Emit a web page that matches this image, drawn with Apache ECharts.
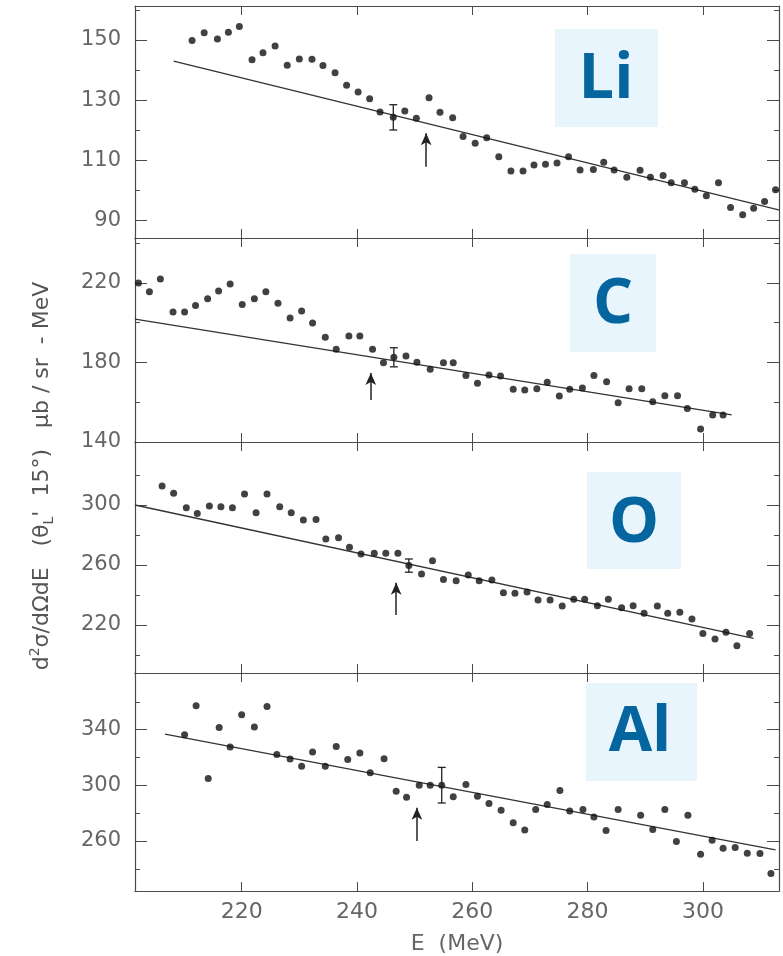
<!DOCTYPE html>
<html><head><meta charset="utf-8">
<script src="https://cdn.jsdelivr.net/npm/echarts@6/dist/echarts.min.js"></script>
<style>html,body{margin:0;padding:0;background:#fff}#c{width:783px;height:956px}</style>
</head><body><div id="c"></div>
<script>
// ---- data ----
const xTicks = [220, 240, 260, 280, 300];
const xMin = 201.5, xMax = 313.2;

const liE = [211.4,213.5,215.8,217.7,219.6,221.8,223.7,225.8,227.9,230.0,232.2,234.1,236.2,238.2,240.2,242.2,244.0,246.3,248.3,250.3,252.5,254.4,256.6,258.4,260.5,262.5,264.6,266.7,268.8,270.7,272.7,274.7,276.7,278.7,281.0,282.8,284.6,286.8,289.1,290.9,293.1,294.5,296.8,298.6,300.6,302.7,304.8,306.9,308.8,310.7,312.6];
const liV = [149.8,152.4,150.3,152.6,154.5,143.4,145.8,148.0,141.6,143.7,143.6,141.5,139.1,135.0,132.7,130.5,126.1,124.3,126.4,124.0,130.8,126.0,124.2,117.9,115.7,117.5,111.2,106.5,106.5,108.5,108.7,109.1,111.2,106.8,107.0,109.4,106.8,104.4,106.7,104.4,105.0,102.6,102.6,100.4,98.2,102.6,94.3,91.9,94.1,96.3,100.2];

const cE = [202.1,204.0,205.9,208.1,210.1,212.0,214.1,216.0,218.0,220.1,222.2,224.2,226.3,228.4,230.4,232.3,234.5,236.4,238.6,240.5,242.7,244.6,246.4,248.5,250.4,252.7,255.0,256.7,258.9,260.9,262.9,264.9,267.1,269.1,271.2,273.0,275.1,276.9,279.1,281.1,283.3,285.3,287.2,289.4,291.3,293.4,295.6,297.3,299.6,301.7,303.5];
const cV = [220.0,215.6,222.0,205.4,205.4,208.6,212.1,216.0,219.5,209.1,212.1,215.6,209.8,202.4,205.9,199.9,192.7,186.6,193.3,193.3,186.6,179.9,182.6,183.3,180.1,176.6,179.9,179.9,173.5,169.5,173.7,173.2,166.5,166.2,166.8,170.0,163.1,166.5,167.2,173.4,170.3,159.8,166.8,166.8,160.3,163.3,163.3,156.9,146.5,153.6,153.6];

const oE = [206.2,208.2,210.4,212.3,214.4,216.4,218.4,220.5,222.5,224.4,226.6,228.6,230.7,232.9,234.6,236.8,238.7,240.7,243.0,245.0,247.1,249.0,251.2,253.1,255.0,257.2,259.3,261.2,263.4,265.4,267.4,269.5,271.4,273.5,275.6,277.6,279.5,281.7,283.6,285.9,287.9,289.8,292.1,293.9,296.0,298.1,300.0,302.1,304.0,305.9,308.1];
const oV = [312.7,307.8,298.2,294.4,299.3,298.9,298.2,307.3,294.9,307.3,298.9,294.9,290.0,290.4,277.3,278.2,271.8,267.3,267.8,267.8,267.8,259.6,254.0,262.9,250.4,249.5,253.3,249.5,250.0,241.5,241.1,242.0,236.7,236.7,232.7,237.1,237.1,232.9,237.1,231.5,232.9,227.8,232.7,227.8,228.5,224.0,214.4,210.7,215.1,206.2,214.4];

const alE = [210.1,212.1,214.2,216.1,218.0,220.0,222.2,224.4,226.1,228.4,230.4,232.3,234.5,236.4,238.4,240.5,242.3,244.7,246.8,248.6,250.8,252.7,254.7,256.7,258.9,260.9,262.9,265.0,267.1,269.1,271.0,273.0,275.2,276.9,279.2,281.1,283.2,285.3,289.2,291.3,293.4,295.4,297.4,299.6,301.6,303.5,305.6,307.7,309.9,311.8];
const alV = [336.4,357.2,304.9,341.6,327.6,350.7,341.9,356.7,322.1,319.0,313.7,324.0,313.7,328.0,318.5,323.3,309.0,319.2,295.8,291.5,300.1,300.1,300.1,291.8,300.6,292.2,287.0,282.0,273.1,267.8,282.7,286.2,296.3,281.5,282.7,277.2,267.6,282.7,278.4,268.3,282.7,259.6,278.4,250.4,260.5,254.8,255.2,251.1,250.9,236.5];

// fitted straight lines: [E1, V1, E2, V2]
const liFit = [208.2, 143.0, 313.3, 93.5];
const cFit  = [201.5, 201.8, 305.0, 153.6];
const oFit  = [201.5, 300.0, 308.8, 211.1];
const alFit = [206.7, 336.9, 312.6, 253.5];

// representative error bar: [E, V, halfWidth]
const liErr = [246.3, 124.3, 4.2];
const cErr  = [246.4, 182.6, 4.8];
const oErr  = [249.0, 259.6, 4.4];
const alErr = [254.7, 300.1, 12.8];

// arrows: [E, tailV, headV]
const liArrow = [252.0, 107.9, 119.0];
const cArrow  = [242.4, 161.1, 174.7];
const oArrow  = [246.8, 226.7, 248.2];
const alArrow = [250.4, 260.0, 283.9];

// y axis ranges and ticks
const yMins = [84.2, 140.0, 188.0, 224.0];
const yMaxs = [161.3, 242.6, 342.0, 380.8];
const liTicks = [90, 110, 130, 150],  liMinor = [100, 120, 140, 160];
const cTicks  = [140, 180, 220],      cMinor  = [160, 200, 240];
const oTicks  = [220, 260, 300],      oMinor  = [200, 240, 280, 320];
const alTicks = [260, 300, 340],      alMinor = [240, 280, 320, 360];

const names = ['Li', 'C', 'O', 'Al'];

// ---- build ----
const Es = [liE, cE, oE, alE], Vs = [liV, cV, oV, alV];
const fits = [liFit, cFit, oFit, alFit];
const errs = [liErr, cErr, oErr, alErr];
const arrows = [liArrow, cArrow, oArrow, alArrow];
const majors = [liTicks, cTicks, oTicks, alTicks];
const minors = [liMinor, cMinor, oMinor, alMinor];

const gridTops = [6, 238, 442, 673];
const gridHeights = [232, 204, 231, 219];
const axisColor = '#4a4a4a';
const labelColor = '#666';
const labelFont = 'DejaVu Sans';

const grid = [], xAxis = [], yAxis = [], series = [];
for (let i = 0; i < 4; i++) {
  grid.push({ left: 135, width: 644, top: gridTops[i], height: gridHeights[i] });
  ['bottom', 'top'].forEach((pos, k) => {
    xAxis.push({
      type: 'value', gridIndex: i, position: pos, min: xMin, max: xMax,
      axisLine: { show: true, onZero: false, lineStyle: { color: axisColor, width: 1.2 } },
      axisTick: { show: true, inside: true, length: 9, customValues: xTicks, lineStyle: { color: axisColor } },
      axisLabel: { show: i === 3 && k === 0, customValues: xTicks, fontSize: 22, color: labelColor, fontFamily: labelFont, margin: 10 },
      splitLine: { show: false },
      name: (i === 3 && k === 0) ? 'E  (MeV)' : '',
      nameLocation: 'middle', nameGap: 42,
      nameTextStyle: { fontSize: 22, color: labelColor, fontFamily: labelFont }
    });
  });
  ['left', 'right'].forEach((pos) => {
    yAxis.push({
      type: 'value', gridIndex: i, position: pos, min: yMins[i], max: yMaxs[i],
      axisLine: { show: true, onZero: false, lineStyle: { color: axisColor, width: 1.2 } },
      axisTick: { show: true, inside: true, length: 12, customValues: majors[i], lineStyle: { color: axisColor } },
      axisLabel: { show: pos === 'left', customValues: majors[i], fontSize: 21, color: labelColor, fontFamily: labelFont, margin: 14 },
      splitLine: { show: false }
    });
    yAxis.push({
      type: 'value', gridIndex: i, position: pos, min: yMins[i], max: yMaxs[i],
      axisLine: { show: false, onZero: false },
      axisTick: { show: true, inside: true, length: 5, customValues: minors[i], lineStyle: { color: axisColor } },
      axisLabel: { show: false },
      splitLine: { show: false }
    });
  });
  const yi = i * 4, xi = i * 2;
  series.push({
    type: 'scatter', xAxisIndex: xi, yAxisIndex: yi,
    data: Es[i].map((e, j) => [e, Vs[i][j]]),
    symbol: 'circle', symbolSize: 7, itemStyle: { color: '#111' },
    silent: true, z: 5,
    markLine: {
      silent: true, symbol: ['none', 'arrow'], symbolSize: [8, 12],
      lineStyle: { color: '#222', width: 1.5, type: 'solid' },
      label: { show: false },
      data: [[{ coord: [arrows[i][0], arrows[i][1]] }, { coord: [arrows[i][0], arrows[i][2]] }]]
    }
  });
  series.push({
    type: 'line', xAxisIndex: xi, yAxisIndex: yi,
    data: [[fits[i][0], fits[i][1]], [fits[i][2], fits[i][3]]],
    showSymbol: false, symbol: 'none', silent: true,
    lineStyle: { color: '#333', width: 1.3 }, z: 4
  });
  series.push({
    type: 'custom', xAxisIndex: xi, yAxisIndex: yi, silent: true, z: 6,
    data: [errs[i]],
    renderItem: function (params, api) {
      const e = api.value(0), v = api.value(1), d = api.value(2);
      const lo = api.coord([e, v - d]), hi = api.coord([e, v + d]);
      const w = 4;
      const st = { stroke: '#222', lineWidth: 1.3 };
      return { type: 'group', children: [
        { type: 'line', shape: { x1: lo[0], y1: lo[1], x2: hi[0], y2: hi[1] }, style: st },
        { type: 'line', shape: { x1: lo[0] - w, y1: lo[1], x2: lo[0] + w, y2: lo[1] }, style: st },
        { type: 'line', shape: { x1: hi[0] - w, y1: hi[1], x2: hi[0] + w, y2: hi[1] }, style: st }
      ]};
    }
  });
}

const boxes = [
  { x: 555, y: 29, w: 103, h: 98, tx: 606, ty: 80 },
  { x: 570, y: 254, w: 86, h: 98, tx: 613, ty: 305 },
  { x: 587, y: 472, w: 94, h: 97, tx: 634, ty: 524 },
  { x: 586, y: 683, w: 111, h: 98, tx: 640, ty: 733 }
];
const graphic = [];
boxes.forEach((b, i) => {
  graphic.push({ type: 'rect', left: b.x, top: b.y, shape: { width: b.w, height: b.h }, style: { fill: '#e9f5fd' }, z: 10 });
  graphic.push({ type: 'text', x: b.tx, y: b.ty, z: 11,
    style: { text: names[i], fill: '#05659f', font: 'bold 63px "Open Sans"', textAlign: 'center', textVerticalAlign: 'middle' } });
});
graphic.push({
  type: 'text', x: 42, y: 476, rotation: Math.PI / 2, z: 11,
  style: {
    text: '{n|d}{sup|2}{n|σ/dΩdE   (θ}{sub|L}{n|\'  15°)   μb / sr  - MeV}',
    textAlign: 'center', textVerticalAlign: 'middle',
    rich: {
      n: { fontSize: 22, fontFamily: labelFont, fill: '#555', lineHeight: 28, verticalAlign: 'middle' },
      sup: { fontSize: 14, fontFamily: labelFont, fill: '#555', lineHeight: 28, verticalAlign: 'top' },
      sub: { fontSize: 14, fontFamily: labelFont, fill: '#555', lineHeight: 28, verticalAlign: 'bottom' }
    }
  }
});

const chart = echarts.init(document.getElementById('c'), null, { renderer: 'canvas' });
chart.setOption({ animation: false, backgroundColor: '#fff', grid, xAxis, yAxis, series, graphic });
</script>
</body></html>
